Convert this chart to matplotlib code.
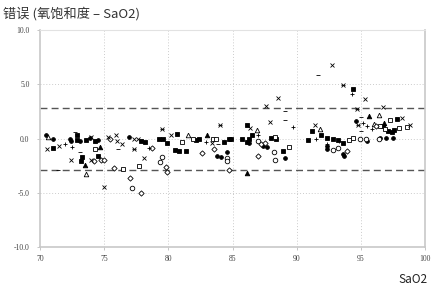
import matplotlib.pyplot as plt

plt.rcParams['font.family'] = ['Noto Sans CJK SC', 'DejaVu Sans']

# ---- Data (SaO2 vs error) ----
sq_f_x = [70.99, 72.9, 72.9, 73.25, 73.2, 73.6, 74.3, 74.5, 77.9, 78.2, 79.3, 79.6, 79.9,
          80.7, 80.5, 80.8, 81.35, 82.16, 82.4, 84.3, 84.7, 84.9, 85.75, 86.1, 86.15, 86.3,
          86.5, 88.0, 88.4, 88.9, 90.9, 91.2, 91.9, 92.35, 92.8, 93.25, 93.64, 94.42, 96.76,
          97.15, 97.4, 97.8, 97.6]
sq_f_y = [-0.89, 0.28, -0.15, -1.72, -2.03, -0.15, -0.25, -1.57, -0.25, -0.3, -0.03, -0.06, -0.4,
          0.43, -1.08, -1.17, -1.17, -0.1, -0.03, -0.28, 0.0, 0.0, 0.0, 1.29, -0.34, 0.0,
          0.28, 0.05, 0.0, -1.17, -0.15, 0.67, 0.28, 0.06, -0.03, -0.15, -0.4, 4.58, 1.13,
          0.74, 0.62, 1.82, 0.8]

ci_f_x = [70.44, 70.99, 72.3, 72.4, 73.1, 74.55, 76.9, 83.8, 84.1, 84.6, 86.3, 87.4, 87.7, 89.1,
          92.35, 92.4, 93.6, 93.7, 94.6, 95.5, 96.5, 96.97, 97.5, 73.9]
ci_f_y = [0.30, -0.03, 0.0, -0.2, -0.25, -0.1, 0.12, -1.57, -1.69, -1.26, -0.4, -0.65, -0.77, -1.81,
          -0.71, -0.95, -1.38, -1.57, 1.66, -0.25, 0.06, 0.06, 0.06, 0.05]

tr_f_x = [73.5, 74.7, 83.0, 86.1, 95.6, 96.8]
tr_f_y = [-2.43, -0.8, 0.28, -3.2, 2.06, 1.4]

tr_o_x = [70.65, 73.6, 81.56, 86.9, 91.8, 96.4, 96.0]
tr_o_y = [0.12, -3.23, 0.28, 0.83, 0.89, 2.21, 1.3]

sq_o_x = [74.3, 76.5, 77.75, 81.1, 81.9, 83.45, 83.7, 88.3, 89.43, 94.1, 94.37, 96.5, 96.9,
          97.3, 98.0, 98.58]
sq_o_y = [-1.0, -2.8, -2.55, -0.34, 0.0, 0.0, 0.0, 0.1, -0.77, -0.15, 0.06, 1.13, 0.92,
          1.75, 1.0, 1.04]

ci_o_x = [77.2, 79.35, 79.5, 84.55, 84.55, 88.24, 88.3, 92.8, 93.2, 94.9, 95.4, 96.4, 87.0]
ci_o_y = [-4.58, -2.15, -1.69, -1.84, -2.1, -1.23, -2.0, -1.08, -0.86, -0.03, -0.03, 0.0, -0.2]

di_o_x = [74.2, 74.75, 75.0, 75.45, 75.8, 77.0, 77.85, 78.7, 79.8, 79.9, 82.6, 83.55, 84.7,
          87.0, 87.2, 87.5, 93.9, 96.2]
di_o_y = [-2.1, -2.0, -1.96, 0.0, -2.7, -3.6, -5.0, -0.86, -2.67, -3.07, -1.32, -0.95, -2.9,
          -1.6, -0.55, -0.4, -1.17, 1.13]

x_x = [70.57, 71.5, 72.4, 74.0, 73.95, 75.0, 75.3, 75.9, 76.0, 76.4, 77.3, 77.6, 78.1, 80.2,
       83.4, 86.4, 87.6, 87.9, 88.57, 91.43, 92.73, 95.3, 96.76, 98.2, 98.84]
x_y = [-0.95, -0.65, -1.94, 0.16, -1.97, -4.45, 0.12, 0.28, -0.25, -0.5, 0.0, 0.0, -1.78, 0.28,
       -0.4, 0.99, 2.98, 1.5, 3.75, 1.29, 6.75, 3.69, 2.88, 1.9, 1.29]

ast_x = [77.3, 79.5, 84.0, 93.64, 94.73, 94.8]
ast_y = [-0.98, 0.89, 1.29, 4.91, 2.76, 1.23]

plus_x = [71.95, 72.47, 78.5, 82.9, 87.0, 89.74, 91.5, 92.35, 94.35, 95.15, 95.5, 95.85, 93.3]
plus_y = [-0.46, -0.77, -0.86, -0.34, 0.37, 1.04, 0.0, -0.55, 4.12, 1.45, 1.13, 0.92, -0.2]

dash_x = [72.7, 73.1, 76.1, 71.4, 89.1, 89.1, 91.7, 95.0, 95.0, 83.9]
dash_y = [0.62, -1.26, -1.0, -2.86, 2.5, 1.69, 5.9, 1.96, 0.67, -0.5]

upper_limit = 2.8
lower_limit = -2.9

x_ticks = [70, 75, 80, 85, 90, 95, 100]
y_ticks = [-10, -5, 0, 5, 10]

# ---- Figure ----
fig = plt.figure(figsize=(4.32, 2.89), dpi=100)
ax = fig.add_axes([0.0926, 0.1453, 0.8912, 0.7507])

for xv in x_ticks[1:-1]:
    ax.axvline(xv, color='#cccccc', lw=0.7, ls=(0, (1, 2)), zorder=0)
for yv in [-5, 0, 5]:
    ax.axhline(yv, color='#cccccc', lw=0.7, ls=(0, (1, 2)), zorder=0)
ax.axhline(upper_limit, color='#555555', lw=1.0, ls=(0, (5, 3)), zorder=1)
ax.axhline(lower_limit, color='#555555', lw=1.0, ls=(0, (5, 3)), zorder=1)

ms = 3.3
kw_f = dict(ls='none', color='black', mew=0.6, zorder=3)
kw_o = dict(ls='none', mfc='white', mec='black', mew=0.6, zorder=3)
ax.plot(sq_f_x, sq_f_y, 's', ms=ms, **kw_f)
ax.plot(ci_f_x, ci_f_y, 'o', ms=2.7, **kw_f)
ax.plot(tr_f_x, tr_f_y, '^', ms=ms, **kw_f)
ax.plot(tr_o_x, tr_o_y, '^', ms=ms, **kw_o)
ax.plot(sq_o_x, sq_o_y, 's', ms=ms, **kw_o)
ax.plot(ci_o_x, ci_o_y, 'o', ms=ms, **kw_o)
ax.plot(di_o_x, di_o_y, 'D', ms=2.7, **kw_o)
ax.plot(x_x, x_y, 'x', ms=ms, **kw_f)
ax.plot(ast_x, ast_y, 'x', ms=ms, **kw_f)
ax.plot(ast_x, ast_y, '_', ms=ms, **kw_f)
ax.plot(plus_x, plus_y, '+', ms=ms, **kw_f)
ax.plot(dash_x, dash_y, '_', ms=ms, **kw_f)

ax.set_xlim(70, 100)
ax.set_ylim(-10, 10)
ax.set_xticks(x_ticks)
ax.set_yticks(y_ticks)
ax.set_xticklabels([str(v) for v in x_ticks], family='Liberation Serif', fontsize=5.5, color='#444444')
ax.set_yticklabels(['%.1f' % v for v in y_ticks], family='Liberation Serif', fontsize=5.5, color='#444444')
ax.tick_params(axis='both', length=2.5, width=0.6, color='#bbbbbb')
ax.tick_params(axis='x', pad=3)
ax.tick_params(axis='y', pad=5)

for side in ['left', 'bottom', 'right']:
    ax.spines[side].set_color('#c8c8c8')
    ax.spines[side].set_linewidth(1.2)
ax.spines['top'].set_color('#e2e2e2')
ax.spines['top'].set_linewidth(0.8)

fig.text(0.008, 0.975, '错误 (氧饱和度 – SaO2)', fontsize=9.5, color='#333333', ha='left', va='top')
fig.text(0.99, 0.012, 'SaO2', fontsize=8.5, color='#222222', ha='right', va='bottom')

fig.savefig('out.png', dpi=100)
